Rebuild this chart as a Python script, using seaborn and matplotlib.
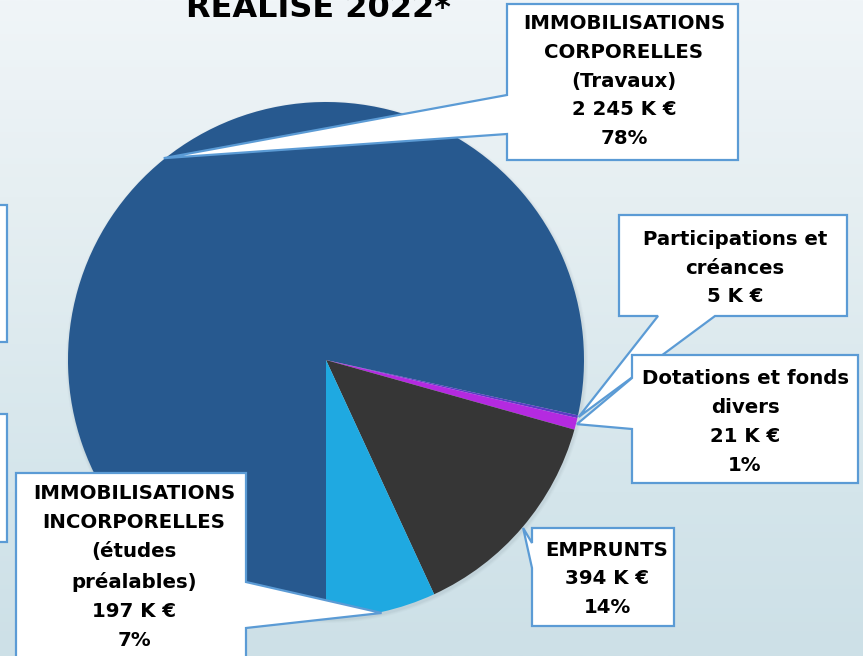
import numpy as np
import matplotlib
matplotlib.use("Agg")
import matplotlib.pyplot as plt
import seaborn as sns
from matplotlib.patches import Polygon, Circle
from matplotlib.colors import LinearSegmentedColormap

sns.set_theme(style="white")
plt.rcParams['font.family'] = ['DejaVu Sans']

# ---- data ----
categories = ["IMMOBILISATIONS\nCORPORELLES\n(Travaux)",
              "Participations et\ncréances",
              "Dotations et fonds\ndivers",
              "EMPRUNTS",
              "IMMOBILISATIONS\nINCORPORELLES\n(études\npréalables)"]
values_k = [2245, 5, 21, 394, 197]
pct_labels = ["78%", None, "1%", "14%", "7%"]
title = "RÉALISÉ 2022*"

colors = ["#27598f", "#5a3cc4", "#b42ae0", "#363636", "#1fa9e1"]

W, H = 863, 656
fig = plt.figure(figsize=(W / 100, H / 100), dpi=100)
ax = fig.add_axes([0, 0, 1, 1])
ax.set_xlim(0, W)
ax.set_ylim(0, H)
ax.axis("off")

def py(y):
    return H - y

# background gradient
cmap = LinearSegmentedColormap.from_list(
    "bg", [(0, "#cde0e7"), (0.25, "#d4e5eb"), (0.7, "#e6eff2"), (1, "#f0f5f8")])
grad = np.linspace(0, 1, 256).reshape(-1, 1)
ax.imshow(grad, extent=[0, W, 0, H], origin="lower", cmap=cmap, aspect="auto", zorder=0)

cx, cy, R = 326, py(360), 258

# soft shadow
for i, a in enumerate([0.05, 0.04, 0.03]):
    ax.add_patch(Circle((cx + 1, cy - 2), R + 1 + i, color="#556677", alpha=a, lw=0, zorder=1))

wedges, _ = ax.pie(values_k, colors=colors, startangle=-90, counterclock=False,
                   center=(cx, cy), radius=R, frame=True,
                   wedgeprops=dict(linewidth=0, zorder=2))
ax.set_xlim(0, W)
ax.set_ylim(0, H)
ax.axis("off")

border = "#5b9bd5"

def tip_of(w):
    ang = np.deg2rad((w.theta1 + w.theta2) / 2)
    return (cx + (R + 1) * np.cos(ang), cy + (R + 1) * np.sin(ang))

def callout(box, tip, base, side):
    x0, y0, x1, y1 = box
    Y0, Y1 = py(y0), py(y1)
    b0, b1 = base
    if side == "left":
        pts = [(x0, Y0), (x1, Y0), (x1, Y1), (x0, Y1), (x0, py(b1)), tip, (x0, py(b0))]
    elif side == "right":
        pts = [(x0, Y0), (x1, Y0), (x1, py(b0)), tip, (x1, py(b1)), (x1, Y1), (x0, Y1)]
    else:  # bottom
        pts = [(x0, Y0), (x1, Y0), (x1, Y1), (b1, Y1), tip, (b0, Y1), (x0, Y1)]
    ax.add_patch(Polygon(pts, closed=True, facecolor="white", edgecolor=border,
                         lw=1.6, joinstyle="miter", zorder=5))

def label(i):
    s = categories[i] + f"\n{values_k[i]:,} K €".replace(",", " ")
    if pct_labels[i]:
        s += "\n" + pct_labels[i]
    return s

fs = 14.2
txt_kw = dict(ha="center", va="center", fontsize=fs, fontweight="bold",
              color="black", linespacing=1.66, zorder=6)

# partial boxes at the left edge
for (t, b) in [(205, 342), (414, 542)]:
    ax.add_patch(Polygon([(-20, py(t)), (7, py(t)), (7, py(b)), (-20, py(b))], closed=True,
                         facecolor="white", edgecolor=border, lw=1.6, zorder=5))

# corporelles
callout((507, 4, 738, 160), tip_of(wedges[0]), (95, 134), "left")
ax.text(624, py(81), label(0), **txt_kw)
# participations
callout((619, 215, 847, 316), tip_of(wedges[1]), (658, 715), "bottom")
ax.text(735, py(268), label(1), **txt_kw)
# dotations
callout((632, 355, 858, 483), tip_of(wedges[2]), (378, 429), "left")
ax.text(745, py(422), label(2), **txt_kw)
# emprunts
callout((532, 528, 674, 626), tip_of(wedges[3]), (543, 568), "left")
ax.text(607, py(579), label(3), **txt_kw)
# incorporelles
callout((16, 473, 246, 680), tip_of(wedges[4]), (582, 628), "right")
ax.text(134, py(567), label(4), **txt_kw)

# title (cut at top edge, as in the reference)
ax.text(318, py(17), title, ha="center", va="baseline", fontsize=23,
        fontweight="bold", color="black", zorder=6)

fig.savefig("out.png", dpi=100)
